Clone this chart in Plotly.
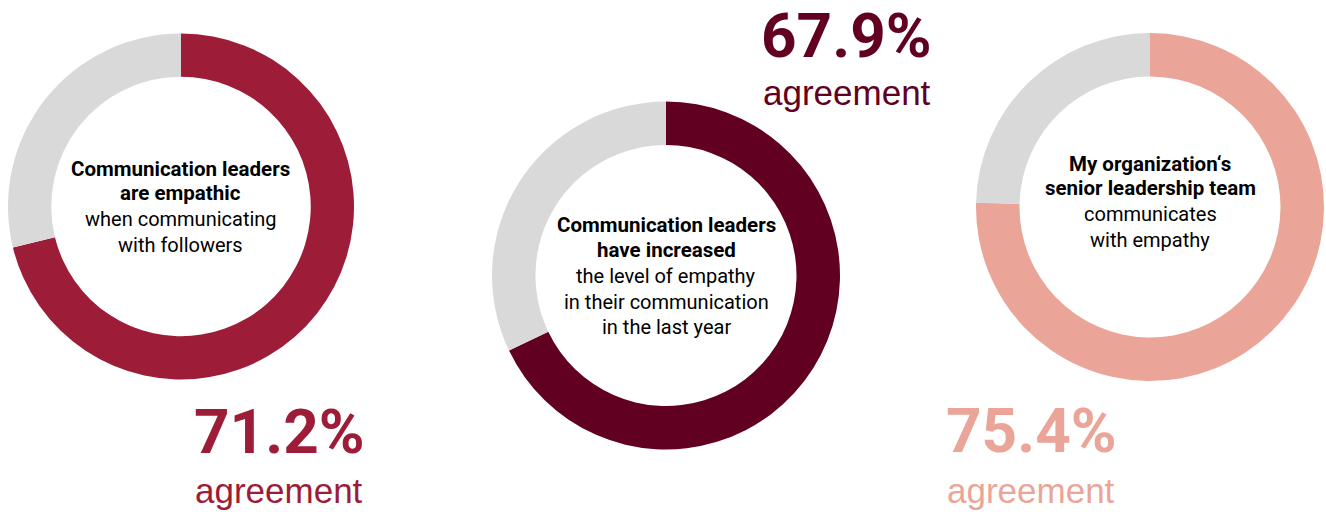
import plotly.graph_objects as go

W, H = 1326, 516

# ---- data ----
agree = [71.2, 67.9, 75.4]
disagree = [28.8, 32.1, 24.6]
pct_labels = ["71.2%", "67.9%", "75.4%"]
slice_labels = ["agree", "other"]
bold_lines = [
    ["Communication leaders", "are empathic"],
    ["Communication leaders", "have increased"],
    ["My organization‘s", "senior leadership team"],
]
regular_lines = [
    ["when communicating", "with followers"],
    ["the level of empathy", "in their communication", "in the last year"],
    ["communicates", "with empathy"],
]
colors = ["#9d1c37", "#620022", "#eba598"]
gray = "#d9d9d9"

# ---- layout (pixel geometry) ----
centers = [(181, 206.5), (666, 275.5), (1150, 207)]
radius = [173, 174, 174]
text_baselines = [
    [176, 200, 226, 252],
    [232, 257, 283, 309, 334],
    [171, 195, 221, 247],
]
num_pos = [(279, 453, 502), (847, 56.5, 104), (1031, 452, 502)]

BOLD_FS, REG_FS, NUM_FS, AGR_FS = 20.5, 20, 62, 35


def px_x(x):
    return x / W


def px_y(y):
    return 1 - y / H


fig = go.Figure()
annotations = []
for i in range(3):
    cx, cy = centers[i]
    r = radius[i]
    fig.add_trace(go.Pie(
        labels=slice_labels,
        values=[agree[i], disagree[i]],
        hole=0.75,
        sort=False,
        direction="clockwise",
        rotation=0,
        marker=dict(colors=[colors[i], gray], line=dict(width=0)),
        textinfo="none",
        hoverinfo="label+value",
        showlegend=False,
        domain=dict(x=[px_x(cx - r), px_x(cx + r)], y=[px_y(cy + r), px_y(cy - r)]),
    ))
    lines = [(t, True) for t in bold_lines[i]] + [(t, False) for t in regular_lines[i]]
    for (txt, is_bold), base in zip(lines, text_baselines[i]):
        fs = BOLD_FS if is_bold else REG_FS
        annotations.append(dict(
            x=px_x(cx), y=px_y(base - 0.34 * fs), xref="paper", yref="paper",
            xanchor="center", yanchor="middle", showarrow=False, borderpad=0,
            text=f"<b>{txt}</b>" if is_bold else txt,
            font=dict(family="Roboto, Liberation Sans, sans-serif", size=fs, color="#000000"),
        ))
    nx, nb, ab = num_pos[i]
    annotations.append(dict(
        x=px_x(nx), y=px_y(nb - 0.34 * NUM_FS), xref="paper", yref="paper",
        xanchor="center", yanchor="middle", showarrow=False, borderpad=0,
        text=f"<b>{pct_labels[i]}</b>",
        font=dict(family="Roboto, Liberation Sans, sans-serif", size=NUM_FS, color=colors[i]),
    ))
    annotations.append(dict(
        x=px_x(nx), y=px_y(ab - 0.34 * AGR_FS), xref="paper", yref="paper",
        xanchor="center", yanchor="middle", showarrow=False, borderpad=0,
        text="agreement",
        font=dict(family="Liberation Sans, Arial, sans-serif", size=AGR_FS, color=colors[i]),
    ))

fig.update_layout(
    width=W, height=H,
    margin=dict(l=0, r=0, t=0, b=0),
    paper_bgcolor="#ffffff",
    plot_bgcolor="#ffffff",
    annotations=annotations,
)

fig.write_html(
    "out.html",
    config={"displayModeBar": False},
    post_script="document.body.style.margin='0';document.body.style.overflow='hidden';",
)
